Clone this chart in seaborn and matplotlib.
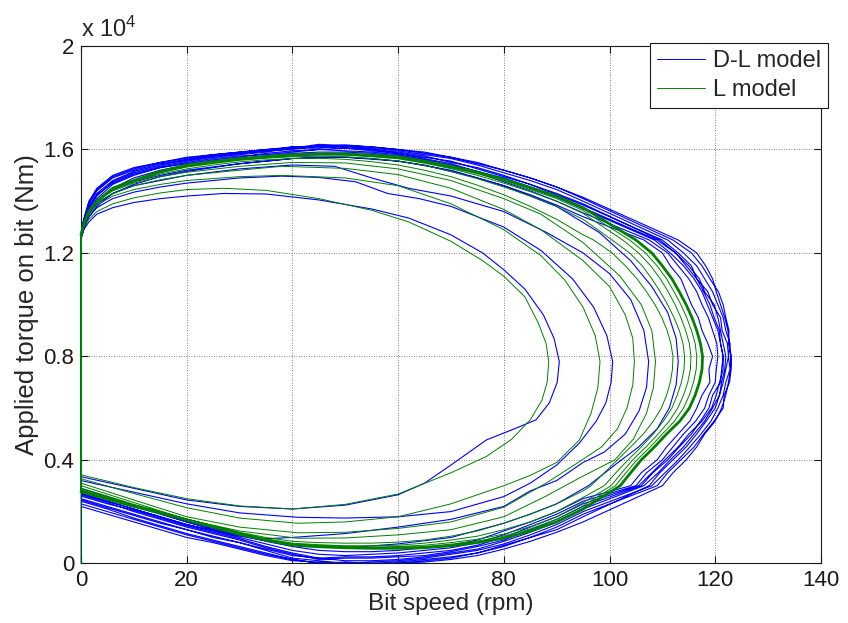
import matplotlib
matplotlib.use("Agg")
import matplotlib.pyplot as plt
import seaborn as sns
import pandas as pd
from matplotlib.lines import Line2D

# ---------------- data (torque in units of 1e4 Nm, speed in rpm) ----------------
# shared grids for the loops close to the limit cycle
U_SPEED_GRID = [0, 0.5, 1.5, 3, 6, 10, 15, 20, 25, 30, 35, 40, 45, 50, 55, 60, 65, 70, 75, 80, 85, 90, 95]
R_TORQUE_GRID = [1.25, 1.2, 1.15, 1.1, 1.05, 1.0, 0.95, 0.9, 0.85, 0.8, 0.75, 0.7, 0.65, 0.6, 0.55, 0.5,
                 0.45, 0.4, 0.35, 0.3]
L_SPEED_GRID = [95, 90, 85, 80, 75, 70, 65, 60, 55, 50, 45, 40, 35, 30, 25, 20, 15, 10, 5, 0]

# ---- L model: transient loops (speed, torque) ----
L1_PTS = [(0, 1.27), (0.5, 1.30), (1.5, 1.33), (3, 1.36), (6, 1.39), (10, 1.413), (15, 1.432), (20, 1.445),
          (27, 1.45), (35, 1.442), (45, 1.41), (55, 1.365), (62, 1.32), (70, 1.245), (76, 1.17), (80, 1.11),
          (84, 1.03), (86.5, 0.93), (88, 0.85), (88.5, 0.78), (88.2, 0.70), (87.2, 0.63), (85, 0.555),
          (81.5, 0.48), (76.7, 0.413), (70, 0.35), (60, 0.268), (50, 0.228), (40, 0.21), (30, 0.222),
          (20, 0.25), (10, 0.293), (0, 0.342)]
L2_PTS = [(0, 1.27), (0.5, 1.31), (1.5, 1.35), (3, 1.385), (6, 1.42), (10, 1.445), (15, 1.465), (20, 1.48),
          (30, 1.495), (38, 1.50), (50, 1.49), (60, 1.46), (70, 1.39), (80, 1.29), (87, 1.19), (91.5, 1.096),
          (95, 0.99), (97.3, 0.88), (98.2, 0.78), (97.8, 0.68), (96.5, 0.58), (94.3, 0.477), (90, 0.39),
          (85, 0.34), (80, 0.30), (70, 0.23), (60, 0.18), (50, 0.16), (41, 0.155), (30, 0.175), (20, 0.215),
          (10, 0.27), (0, 0.327)]
L3_PTS = [(0, 1.27), (0.5, 1.315), (1.5, 1.36), (3, 1.395), (6, 1.43), (10, 1.46), (15, 1.483), (20, 1.50),
          (30, 1.52), (38, 1.535), (50, 1.527), (60, 1.503), (70, 1.45), (80, 1.368), (87, 1.29), (95, 1.17),
          (100, 1.07), (103, 0.96), (104.4, 0.87), (104.7, 0.78), (104.4, 0.69), (103.3, 0.60), (101.5, 0.52),
          (98.5, 0.45), (94.3, 0.393), (88, 0.31), (80, 0.217), (70, 0.16), (60, 0.135), (50, 0.12),
          (41, 0.118), (30, 0.14), (20, 0.18), (10, 0.245), (0, 0.31)]
L4_PTS = [(0, 1.27), (0.5, 1.318), (1.5, 1.365), (3, 1.40), (6, 1.44), (10, 1.47), (15, 1.495), (20, 1.512),
          (30, 1.535), (40, 1.55), (50, 1.548), (60, 1.525), (70, 1.48), (80, 1.41), (87, 1.35), (95, 1.24),
          (102, 1.11), (106, 1.0), (108, 0.9), (108.7, 0.78), (108.3, 0.68), (107, 0.58), (104.5, 0.48),
          (101, 0.40), (94.3, 0.33), (88, 0.26), (80, 0.18), (70, 0.13), (60, 0.11), (50, 0.098),
          (41, 0.097), (30, 0.125), (20, 0.17), (10, 0.235), (0, 0.30)]
# ---- L model: loops near the limit cycle (upper / right / lower on the shared grids) ----
L5_UP = [1.27, 1.315, 1.365, 1.40, 1.445, 1.475, 1.505, 1.525, 1.54, 1.552, 1.56, 1.565, 1.566, 1.562, 1.553,
         1.54, 1.52, 1.495, 1.462, 1.425, 1.38, 1.33, 1.27]
L5_RIGHT = [97, 100.5, 103, 105.2, 107, 108.6, 109.9, 110.9, 111.6, 112, 111.9, 111.5, 110.8, 109.8, 108.3,
            106.4, 104, 101.5, 99, 96.5]
L5_LOW = [0.28, 0.23, 0.19, 0.155, 0.125, 0.105, 0.09, 0.082, 0.078, 0.078, 0.08, 0.085, 0.1, 0.12, 0.145,
          0.172, 0.2, 0.228, 0.26, 0.29]
L6_UP = [1.27, 1.313, 1.363, 1.40, 1.448, 1.478, 1.51, 1.532, 1.546, 1.558, 1.566, 1.572, 1.574, 1.572, 1.565,
         1.556, 1.538, 1.515, 1.487, 1.455, 1.42, 1.38, 1.33]
L6_RIGHT = [100.5, 103.8, 106.2, 108, 109.6, 111, 112.2, 113.2, 113.9, 114.2, 114.1, 113.6, 112.8, 111.8,
            110.2, 108.3, 106, 103.5, 101.2, 99]
L6_LOW = [0.255, 0.2, 0.16, 0.13, 0.105, 0.09, 0.078, 0.07, 0.068, 0.068, 0.072, 0.078, 0.095, 0.117, 0.142,
          0.17, 0.197, 0.225, 0.255, 0.285]
L7_UP = [1.27, 1.312, 1.362, 1.40, 1.449, 1.479, 1.512, 1.536, 1.55, 1.562, 1.57, 1.576, 1.579, 1.578, 1.572,
         1.564, 1.547, 1.526, 1.5, 1.47, 1.437, 1.40, 1.353]
L7_RIGHT = [102.5, 105.5, 107.8, 109.6, 111.1, 112.4, 113.5, 114.4, 115.1, 115.4, 115.3, 114.8, 114, 112.9,
            111.3, 109.2, 106.9, 104.4, 102.3, 100.3]
L7_LOW = [0.235, 0.18, 0.142, 0.113, 0.093, 0.08, 0.07, 0.065, 0.063, 0.064, 0.068, 0.074, 0.092, 0.114, 0.14,
          0.168, 0.196, 0.223, 0.252, 0.282]
L8_UP = [1.27, 1.311, 1.361, 1.40, 1.45, 1.48, 1.514, 1.538, 1.552, 1.564, 1.572, 1.578, 1.581, 1.581, 1.575,
         1.568, 1.551, 1.53, 1.506, 1.478, 1.445, 1.41, 1.364]
L8_RIGHT = [103.8, 106.8, 109, 110.8, 112.2, 113.5, 114.6, 115.5, 116.2, 116.5, 116.4, 115.9, 115.1, 114,
            112.3, 110, 107.7, 105.2, 103.1, 101.1]
L8_LOW = [0.222, 0.17, 0.133, 0.105, 0.086, 0.074, 0.065, 0.061, 0.06, 0.062, 0.066, 0.072, 0.091, 0.113, 0.14,
          0.168, 0.196, 0.222, 0.25, 0.28]
LIM_UP = [1.27, 1.31, 1.36, 1.40, 1.45, 1.48, 1.515, 1.54, 1.553, 1.565, 1.573, 1.58, 1.583, 1.583, 1.578,
          1.572, 1.555, 1.535, 1.512, 1.485, 1.453, 1.42, 1.375]
LIM_RIGHT = [105, 108, 110, 111.8, 113.2, 114.5, 115.6, 116.5, 117.2, 117.6, 117.5, 117, 116.2, 115.1, 113.3,
             110.8, 108.5, 106, 104, 102]
LIM_LOW = [0.21, 0.16, 0.125, 0.097, 0.08, 0.068, 0.06, 0.058, 0.058, 0.06, 0.064, 0.07, 0.09, 0.112, 0.14,
           0.168, 0.195, 0.22, 0.248, 0.277]

# ---- D-L model: transient loops ----
DL1_PTS = [(0, 1.26), (0.5, 1.29), (1.5, 1.32), (3, 1.35), (6, 1.375), (10, 1.395), (15, 1.41), (20, 1.42),
           (27, 1.43), (35, 1.428), (45, 1.405), (55, 1.37), (62, 1.335), (70, 1.27), (76, 1.2), (80, 1.135),
           (84, 1.06), (87.5, 0.96), (89.5, 0.87), (90.5, 0.78), (90.1, 0.70), (88.6, 0.62), (86.1, 0.555),
           (82, 0.52), (76.7, 0.477), (70, 0.38), (65, 0.31), (60, 0.265), (50, 0.225), (40, 0.21),
           (30, 0.22), (20, 0.245), (10, 0.29), (0, 0.335)]
DL2_PTS = [(0, 1.27), (0.5, 1.30), (1.5, 1.34), (3, 1.375), (6, 1.41), (10, 1.435), (15, 1.455), (20, 1.47),
           (30, 1.49), (38, 1.497), (45, 1.492), (52, 1.475), (58, 1.43), (64, 1.41), (70, 1.38), (80, 1.30),
           (87, 1.21), (93, 1.10), (97, 0.99), (99.5, 0.88), (100.6, 0.78), (100.3, 0.70), (99.3, 0.62),
           (97.5, 0.55), (94.3, 0.465), (90, 0.38), (85, 0.31), (80, 0.258), (70, 0.2), (60, 0.18),
           (50, 0.175), (41, 0.178), (30, 0.195), (20, 0.23), (10, 0.275), (0, 0.32)]
DL3_PTS = [(0, 1.27), (0.5, 1.31), (1.5, 1.355), (3, 1.39), (6, 1.43), (10, 1.46), (15, 1.48), (20, 1.50),
           (30, 1.525), (40, 1.54), (48, 1.535), (55, 1.49), (62, 1.45), (70, 1.42), (80, 1.36), (88, 1.28),
           (95, 1.2), (100, 1.12), (104, 1.02), (106.5, 0.9), (107.4, 0.78), (107, 0.68), (105.6, 0.59),
           (103, 0.50), (99, 0.43), (95, 0.39), (90, 0.32), (85, 0.28), (80, 0.22), (70, 0.17), (60, 0.14),
           (50, 0.115), (40, 0.1), (35, 0.095), (30, 0.11), (20, 0.16), (10, 0.225), (0, 0.29)]
DL4_PTS = [(0, 1.27), (0.5, 1.315), (1.5, 1.365), (3, 1.40), (6, 1.445), (10, 1.475), (15, 1.50), (20, 1.52),
           (30, 1.545), (40, 1.565), (50, 1.57), (60, 1.555), (70, 1.52), (80, 1.46), (90, 1.38), (98, 1.28),
           (104, 1.17), (108, 1.07), (111, 0.97), (112.6, 0.87), (113, 0.78), (112.6, 0.69), (111.3, 0.6),
           (109, 0.52), (105.5, 0.45), (101, 0.38), (96, 0.30), (90, 0.23), (85, 0.19), (80, 0.155),
           (70, 0.1), (60, 0.075), (50, 0.06), (40, 0.07), (30, 0.105), (20, 0.15), (10, 0.21), (0, 0.27)]
# ---- D-L model: noisy band of loops around the limit cycle ----
B1_UP = [1.27, 1.32, 1.39, 1.44, 1.49, 1.52, 1.545, 1.56, 1.575, 1.585, 1.595, 1.60, 1.615, 1.61, 1.605, 1.595,
         1.58, 1.565, 1.54, 1.51, 1.48, 1.445, 1.40]
B1_RIGHT = [111, 114, 116.5, 118, 119.5, 120.5, 121.5, 122, 122.8, 122.5, 122.8, 122, 121.5, 120.5, 119.2,
            117.3, 115.2, 113, 110.5, 108]
B1_LOW = [0.2, 0.15, 0.11, 0.075, 0.05, 0.035, 0.02, 0.01, 0.005, 0.0, 0.01, 0.02, 0.05, 0.08, 0.1, 0.13, 0.16,
          0.19, 0.22, 0.25]
B2_UP = [1.26, 1.30, 1.36, 1.41, 1.465, 1.50, 1.53, 1.55, 1.565, 1.575, 1.58, 1.59, 1.60, 1.605, 1.595, 1.585,
         1.565, 1.545, 1.515, 1.49, 1.455, 1.42, 1.375]
B2_RIGHT = [109, 112.5, 114.5, 116.5, 117.8, 119, 119.8, 120.8, 121, 121.5, 121.2, 121, 119.5, 118.8, 117.2,
            115.5, 113.2, 111, 108.2, 106]
B2_LOW = [0.22, 0.17, 0.13, 0.09, 0.065, 0.045, 0.03, 0.025, 0.02, 0.02, 0.015, 0.035, 0.06, 0.09, 0.115, 0.14,
          0.17, 0.2, 0.235, 0.265]
B3_UP = [1.27, 1.31, 1.37, 1.42, 1.475, 1.51, 1.535, 1.555, 1.57, 1.58, 1.59, 1.605, 1.605, 1.615, 1.60, 1.59,
         1.575, 1.55, 1.53, 1.50, 1.465, 1.425, 1.385]
B3_RIGHT = [110, 113, 115.5, 116.5, 118.6, 119.5, 121, 121.3, 122.3, 122.5, 122, 121.5, 120.8, 120, 118.3,
            116.5, 114.5, 112, 109.5, 107.5]
B3_LOW = [0.18, 0.13, 0.1, 0.07, 0.04, 0.025, 0.015, 0.005, 0.0, 0.005, 0.0, 0.015, 0.04, 0.065, 0.09, 0.115,
          0.145, 0.175, 0.21, 0.24]
B4_UP = [1.25, 1.29, 1.35, 1.40, 1.45, 1.49, 1.52, 1.54, 1.555, 1.565, 1.575, 1.585, 1.59, 1.59, 1.585, 1.575,
         1.56, 1.535, 1.51, 1.475, 1.44, 1.40, 1.355]
B4_RIGHT = [107.5, 111, 113, 115, 116.5, 117.5, 118.7, 119.5, 120.3, 120.5, 120.2, 120, 118.8, 118, 116.3,
            114, 112, 110, 107, 105]
B4_LOW = [0.24, 0.19, 0.15, 0.11, 0.08, 0.06, 0.05, 0.04, 0.035, 0.03, 0.035, 0.05, 0.075, 0.1, 0.125, 0.15,
          0.18, 0.21, 0.24, 0.27]
B5_UP = [1.28, 1.33, 1.40, 1.45, 1.50, 1.53, 1.55, 1.565, 1.58, 1.59, 1.60, 1.605, 1.62, 1.615, 1.61, 1.60,
         1.585, 1.57, 1.545, 1.52, 1.49, 1.455, 1.415]
B5_RIGHT = [113, 116.5, 118.2, 119.5, 120.2, 121, 121.8, 122.4, 122.7, 123, 122.9, 122.5, 122, 121.2, 120,
            118, 116.5, 114.5, 112, 110]
B5_LOW = [0.16, 0.12, 0.085, 0.055, 0.03, 0.015, 0.005, 0.0, -0.005, 0.0, 0.005, 0.01, 0.03, 0.055, 0.08, 0.1,
          0.13, 0.16, 0.19, 0.22]
B6_UP = [1.26, 1.29, 1.34, 1.38, 1.43, 1.465, 1.495, 1.515, 1.53, 1.545, 1.555, 1.565, 1.57, 1.57, 1.565, 1.555,
         1.54, 1.515, 1.49, 1.46, 1.425, 1.385, 1.34]
B6_RIGHT = [106.5, 110, 111.5, 113.5, 114.5, 115.5, 116.8, 117.5, 118.6, 119.5, 118.8, 119, 117.5, 116.5,
            115.2, 113, 110.8, 109, 106, 104]
B6_LOW = [0.25, 0.2, 0.16, 0.125, 0.09, 0.07, 0.06, 0.05, 0.045, 0.045, 0.05, 0.065, 0.085, 0.11, 0.13, 0.16,
          0.19, 0.22, 0.25, 0.28]
B7_UP = [1.27, 1.315, 1.38, 1.43, 1.48, 1.515, 1.54, 1.56, 1.575, 1.585, 1.595, 1.61, 1.61, 1.605, 1.60, 1.585,
         1.57, 1.555, 1.525, 1.495, 1.465, 1.43, 1.39]
B7_RIGHT = [109.5, 112.5, 115, 117, 118, 119.8, 120.5, 121, 121.5, 122, 121.8, 121.2, 120.8, 119.5, 118,
            116, 114, 111.5, 109.2, 106.5]
B7_LOW = [0.21, 0.16, 0.12, 0.085, 0.055, 0.04, 0.025, 0.015, 0.01, 0.01, 0.02, 0.03, 0.055, 0.08, 0.105, 0.13,
          0.155, 0.185, 0.215, 0.245]
B8_UP = [1.265, 1.30, 1.375, 1.425, 1.47, 1.505, 1.53, 1.545, 1.56, 1.57, 1.585, 1.595, 1.60, 1.595, 1.59,
         1.58, 1.56, 1.54, 1.515, 1.485, 1.45, 1.415, 1.37]
B8_RIGHT = [108.5, 111.5, 114, 116, 117.5, 118.5, 119.5, 120.5, 121, 121.5, 121.5, 120.8, 120.2, 119.3,
            117.5, 115, 113, 110.5, 108, 105.5]
B8_LOW = [0.23, 0.18, 0.14, 0.1, 0.07, 0.05, 0.04, 0.03, 0.025, 0.025, 0.02, 0.04, 0.065, 0.095, 0.12, 0.145,
          0.175, 0.205, 0.23, 0.26]
B9_UP = [1.275, 1.325, 1.395, 1.445, 1.495, 1.525, 1.55, 1.57, 1.58, 1.59, 1.60, 1.61, 1.612, 1.618, 1.61,
         1.60, 1.59, 1.57, 1.55, 1.52, 1.49, 1.455, 1.41]
B9_RIGHT = [112, 115.5, 117.5, 119, 120.6, 121.5, 122, 122.6, 122.5, 123, 123, 122.7, 121.7, 121.5, 119.8,
            117.8, 116, 113.5, 111, 109]
B9_LOW = [0.19, 0.14, 0.1, 0.065, 0.04, 0.02, 0.01, 0.0, -0.005, -0.005, 0.0, 0.015, 0.035, 0.06, 0.085, 0.11,
          0.14, 0.17, 0.2, 0.23]

MODELS = ["D-L model", "L model"]
COLORS = {"D-L model": "#0000ff", "L model": "#008000"}
X_TICKS = [0, 20, 40, 60, 80, 100, 120, 140]
Y_TICKS = [0, 0.4, 0.8, 1.2, 1.6, 2.0]
Y_TICK_LABELS = ["0", "0.4", "0.8", "1.2", "1.6", "2"]


def grid_loop(up, right, low):
    return list(zip(U_SPEED_GRID, up)) + list(zip(right, R_TORQUE_GRID)) + list(zip(L_SPEED_GRID, low))


LIM_PTS = grid_loop(LIM_UP, LIM_RIGHT, LIM_LOW)
L_LOOPS = [L1_PTS, L2_PTS, L3_PTS, L4_PTS, grid_loop(L5_UP, L5_RIGHT, L5_LOW),
           grid_loop(L6_UP, L6_RIGHT, L6_LOW), grid_loop(L7_UP, L7_RIGHT, L7_LOW),
           grid_loop(L8_UP, L8_RIGHT, L8_LOW), LIM_PTS]
DL_LOOPS = [DL1_PTS, DL2_PTS, DL3_PTS, DL4_PTS,
            grid_loop(B4_UP, B4_RIGHT, B4_LOW), grid_loop(B2_UP, B2_RIGHT, B2_LOW),
            grid_loop(B6_UP, B6_RIGHT, B6_LOW), grid_loop(B1_UP, B1_RIGHT, B1_LOW),
            grid_loop(B8_UP, B8_RIGHT, B8_LOW), grid_loop(B7_UP, B7_RIGHT, B7_LOW),
            grid_loop(B3_UP, B3_RIGHT, B3_LOW), grid_loop(B9_UP, B9_RIGHT, B9_LOW),
            grid_loop(B5_UP, B5_RIGHT, B5_LOW)]

rows = []
for model, loops in (("D-L model", DL_LOOPS), ("L model", L_LOOPS)):
    pts = [(0.0, 0.0)]
    for lp in loops:
        pts += lp
    for i, (s, t) in enumerate(pts):
        rows.append({"model": model, "speed": s, "torque": t, "order": i})
df = pd.DataFrame(rows)
lim_df = pd.DataFrame(LIM_PTS, columns=["speed", "torque"])

# ---------------- plot ----------------
sns.set_theme(style="white")
plt.rcParams["font.family"] = ["Liberation Sans", "DejaVu Sans"]
plt.rcParams["mathtext.fontset"] = "custom"
plt.rcParams["mathtext.rm"] = "Liberation Sans"
plt.rcParams["mathtext.it"] = "Liberation Sans:italic"
plt.rcParams["mathtext.bf"] = "Liberation Sans:bold"

fig = plt.figure(figsize=(8.48, 6.23), dpi=100)
fig.patch.set_facecolor("white")
ax = fig.add_axes([0.0955, 0.0958, 0.8726, 0.8303])

sns.lineplot(data=df[df["model"] == "D-L model"], x="speed", y="torque", color=COLORS["D-L model"],
             estimator=None, sort=False, lw=0.8, legend=False, ax=ax)
sns.lineplot(data=df[df["model"] == "L model"], x="speed", y="torque", color=COLORS["L model"],
             estimator=None, sort=False, lw=0.7, legend=False, ax=ax)
sns.lineplot(data=lim_df, x="speed", y="torque", color=COLORS["L model"], estimator=None,
             sort=False, lw=2.0, legend=False, ax=ax)

for ln in ax.lines:
    ln.set_zorder(3)
    if ln.get_color() == "#008000":
        ln.set_clip_on(False)

ax.set_xlim(0, 140)
ax.set_ylim(0, 2)
ax.set_xticks(X_TICKS)
ax.set_yticks(Y_TICKS)
ax.set_yticklabels(Y_TICK_LABELS)
ax.tick_params(axis="both", which="both", direction="in", length=5, width=0.8, colors="k",
               labelsize=16, top=True, right=True, bottom=True, left=True, pad=5)
ax.grid(True, color="0.35", ls=(0, (1, 2)), lw=0.6)
for sp in ax.spines.values():
    sp.set_color("k")
    sp.set_linewidth(0.8)
    sp.set_visible(True)

ax.set_xlabel("Bit speed (rpm)", fontsize=17.5, labelpad=1)
ax.set_ylabel("Applied torque on bit (Nm)", fontsize=18.5, labelpad=3)
ax.text(0.0, 1.017, r"x 10$^{4}$", transform=ax.transAxes, ha="left", va="baseline", fontsize=17)

handles = [Line2D([], [], color=COLORS[m], lw=0.7) for m in MODELS]
leg = ax.legend(handles, MODELS, loc="upper right", bbox_to_anchor=(1.0095, 1.006), frameon=True,
                fancybox=False, edgecolor="k", framealpha=1, fontsize=17, handlelength=2.0,
                borderpad=0.3, labelspacing=0.3, handletextpad=0.35, borderaxespad=0)
leg.get_frame().set_linewidth(0.8)
leg.set_zorder(5)

fig.savefig("out.png", dpi=100, facecolor="white")
